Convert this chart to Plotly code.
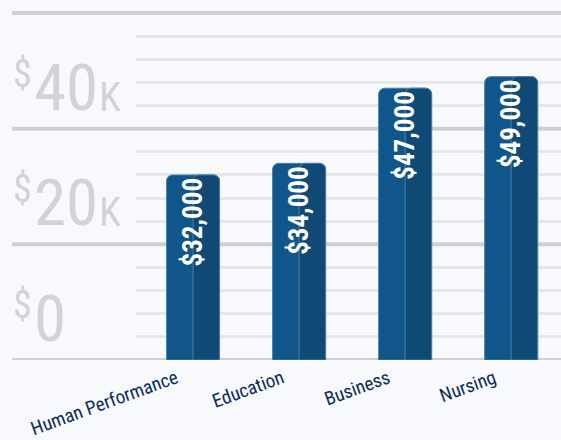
import plotly.graph_objects as go

categories = ["Human Performance", "Education", "Business", "Nursing"]
salaries = [32000, 34000, 47000, 49000]
bar_labels = ["$32,000", "$34,000", "$47,000", "$49,000"]
major_ticks = [0, 20000, 40000, 60000]
minor_ticks = [v for v in range(4000, 62000, 4000) if v % 20000 != 0]
axis_label_values = [0, 20000, 40000]
axis_label_digits = ["0", "20", "40"]
axis_label_suffix = ["", "K", "K"]

FONT = "Liberation Sans Narrow, Arial Narrow, Roboto Condensed, Roboto, sans-serif"
BG = "#f7f9fd"
LIGHT = "#10568a"
DARK = "#0f4a77"
EDGE = "#4f7fa7"
GRAYTXT = "#d3d3d5"

fig = go.Figure()

fig.add_trace(go.Bar(
    x=categories, y=salaries, width=0.5, offset=-0.25,
    marker=dict(color=LIGHT, cornerradius=6, line=dict(color=EDGE, width=1)),
    hoverinfo="skip", showlegend=False,
))
fig.add_trace(go.Bar(
    x=categories, y=salaries, width=0.25, offset=0,
    marker=dict(color=DARK, cornerradius=6, line=dict(color=EDGE, width=1)),
    hoverinfo="skip", showlegend=False,
))
fig.add_trace(go.Bar(
    x=categories, y=salaries, width=0.5, offset=-0.25,
    marker=dict(color="rgba(0,0,0,0)", line=dict(width=0)),
    text=bar_labels, textposition="inside", insidetextanchor="end",
    textangle=-90, textfont=dict(family=FONT, size=27, color="white", weight="bold"),
    constraintext="none", cliponaxis=False,
    hoverinfo="skip", showlegend=False,
))

shapes = []
for v in major_ticks:
    shapes.append(dict(type="line", xref="paper", yref="y", x0=12 / 561, x1=1, y0=v, y1=v,
                       line=dict(color="#d0d0d2", width=4), layer="below"))

annotations = []
for v, d, s in zip(axis_label_values, axis_label_digits, axis_label_suffix):
    annotations.append(dict(xref="paper", yref="y", x=33 / 561, y=v, xanchor="left", yanchor="bottom",
                            yshift=2, text=d, showarrow=False, borderpad=0,
                            font=dict(family=FONT, size=65, color=GRAYTXT)))
    annotations.append(dict(xref="paper", yref="y", x=12 / 561, y=v, xanchor="left", yanchor="bottom",
                            yshift=32, text="$", showarrow=False, borderpad=0,
                            font=dict(family=FONT, size=38, color=GRAYTXT)))
    if s:
        annotations.append(dict(xref="paper", yref="y", x=98 / 561, y=v, xanchor="left", yanchor="bottom",
                                yshift=7, text=s, showarrow=False, borderpad=0,
                                font=dict(family=FONT, size=40, color=GRAYTXT)))

fig.update_layout(
    width=561, height=440,
    margin=dict(l=0, r=0, t=0, b=80, autoexpand=False),
    paper_bgcolor=BG, plot_bgcolor="rgba(0,0,0,0)",
    barmode="overlay",
    shapes=shapes, annotations=annotations,
    xaxis=dict(domain=[136 / 561, 1], range=[-0.538, 3.47], showgrid=False, zeroline=False,
               showline=False, ticks="", tickangle=-20, automargin=False,
               ticklabelshift=-17, ticklabelstandoff=3,
               tickfont=dict(family=FONT, size=19, color="#0e2d59")),
    yaxis=dict(range=[0, 62250], showticklabels=False, zeroline=False, showline=False,
               automargin=False, tickmode="array", tickvals=minor_ticks,
               showgrid=True, gridcolor="#e6e7ea", gridwidth=2.5),
)

fig.write_html(
    "out.html",
    config={"displayModeBar": False},
    post_script="document.body.style.margin='0';document.body.style.background='" + BG + "';",
)
